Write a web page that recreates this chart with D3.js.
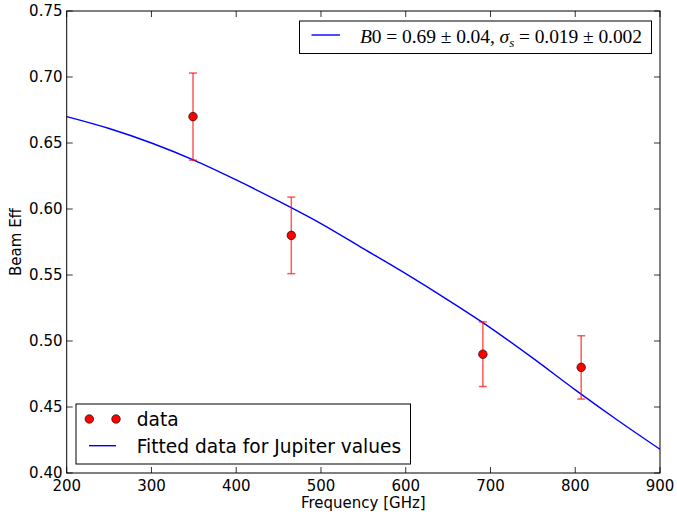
<!DOCTYPE html>
<html><head><meta charset="utf-8">
<script src="https://cdn.jsdelivr.net/npm/d3@7/dist/d3.min.js"></script>
<style>body{margin:0;background:#fff}svg{display:block}text{font-family:"DejaVu Sans",sans-serif}</style>
</head><body>
<script>
const freqs = [349, 465, 691, 807];
const beamEff = [0.670, 0.580, 0.490, 0.480];
const beamErr = [0.033, 0.029, 0.0245, 0.024];
const fitFreq = [200, 250, 300, 350, 400, 450, 500, 550, 600, 650, 700, 750, 800, 850, 900];
const fitEff = [0.670, 0.661, 0.650, 0.637, 0.622, 0.606, 0.589, 0.570, 0.551, 0.531, 0.510, 0.487, 0.463, 0.440, 0.418];
const xTicks = [200, 300, 400, 500, 600, 700, 800, 900];
const yTicks = [0.40, 0.45, 0.50, 0.55, 0.60, 0.65, 0.70, 0.75];

const W = 677, H = 515;
const L = 66.7, R = 660, T = 11, B = 473;
const svg = d3.select("body").append("svg").attr("width", W).attr("height", H);
const x = d3.scaleLinear().domain([200, 900]).range([L, R]);
const y = d3.scaleLinear().domain([0.40, 0.75]).range([B, T]);

// ticks (inside, all four sides)
const tl = 6;
const g = svg.append("g");
xTicks.forEach(t => {
  g.append("line").attr("x1", x(t)).attr("x2", x(t)).attr("y1", B).attr("y2", B - tl).attr("stroke", "#000").attr("stroke-width", 0.8);
  g.append("line").attr("x1", x(t)).attr("x2", x(t)).attr("y1", T).attr("y2", T + tl).attr("stroke", "#000").attr("stroke-width", 0.8);
  g.append("text").attr("x", x(t)).attr("y", 490.5).attr("text-anchor", "middle").attr("font-size", 15).text(t);
});
yTicks.forEach(t => {
  g.append("line").attr("x1", L).attr("x2", L + tl).attr("y1", y(t)).attr("y2", y(t)).attr("stroke", "#000").attr("stroke-width", 0.8);
  g.append("line").attr("x1", R).attr("x2", R - tl).attr("y1", y(t)).attr("y2", y(t)).attr("stroke", "#000").attr("stroke-width", 0.8);
  g.append("text").attr("x", 62.5).attr("y", y(t)).attr("dy", "0.36em").attr("text-anchor", "end").attr("font-size", 15).text(t.toFixed(2));
});

// fitted curve
svg.append("clipPath").attr("id", "c").append("rect").attr("x", L).attr("y", T).attr("width", R - L).attr("height", B - T);
const line = d3.line().x((d, i) => x(fitFreq[i])).y(d => y(d)).curve(d3.curveMonotoneX);
svg.append("path").attr("d", line(fitEff)).attr("fill", "none").attr("stroke", "#0000ff").attr("stroke-width", 1.4).attr("clip-path", "url(#c)");

// error bars
const eb = svg.append("g").attr("stroke", "#ff0000").attr("stroke-opacity", 0.65).attr("stroke-width", 1.5);
freqs.forEach((f, i) => {
  const cx = x(f), y1 = y(beamEff[i] - beamErr[i]), y2 = y(beamEff[i] + beamErr[i]);
  eb.append("line").attr("x1", cx).attr("x2", cx).attr("y1", y1).attr("y2", y2);
  eb.append("line").attr("x1", cx - 4).attr("x2", cx + 4).attr("y1", y1).attr("y2", y1);
  eb.append("line").attr("x1", cx - 4).attr("x2", cx + 4).attr("y1", y2).attr("y2", y2);
});
svg.append("g").selectAll("circle").data(beamEff).join("circle")
  .attr("cx", (d, i) => x(freqs[i])).attr("cy", d => y(d)).attr("r", 4.3)
  .attr("fill", "#ff0000").attr("stroke", "#000").attr("stroke-width", 0.6);

// frame
svg.append("rect").attr("x", L).attr("y", T).attr("width", R - L).attr("height", B - T).attr("fill", "none").attr("stroke", "#000").attr("stroke-width", 1);

// axis labels
svg.append("text").attr("x", (L + R) / 2).attr("y", 508).attr("text-anchor", "middle").attr("font-size", 15).text("Frequency [GHz]");
svg.append("text").attr("transform", `translate(21,${(T + B) / 2}) rotate(-90)`).attr("text-anchor", "middle").attr("font-size", 15).text("Beam Eff");

// upper legend
svg.append("rect").attr("x", 299.5).attr("y", 21).attr("width", 352).attr("height", 32.5).attr("fill", "#fff").attr("stroke", "#000").attr("stroke-width", 1);
svg.append("line").attr("x1", 311.5).attr("x2", 340).attr("y1", 35).attr("y2", 35).attr("stroke", "#0000ff").attr("stroke-width", 1.4);
const mt = svg.append("text").attr("x", 360).attr("y", 42.5).attr("font-size", 19.5)
  .attr("textLength", 282).attr("lengthAdjust", "spacing")
  .style("font-family", "'Liberation Serif', serif");
mt.append("tspan").attr("font-style", "italic").text("B");
mt.append("tspan").text("0 = 0.69 \u00b1 0.04, ");
mt.append("tspan").attr("font-style", "italic").text("\u03c3");
mt.append("tspan").attr("font-style", "italic").attr("font-size", 13).attr("dy", 4).text("s");
mt.append("tspan").attr("dy", -4).text(" = 0.019 \u00b1 0.002");

// lower legend
svg.append("rect").attr("x", 76).attr("y", 404).attr("width", 334.5).attr("height", 60).attr("fill", "#fff").attr("stroke", "#000").attr("stroke-width", 1);
[89.3, 116].forEach(cx => svg.append("circle").attr("cx", cx).attr("cy", 419).attr("r", 4.3).attr("fill", "#ff0000").attr("stroke", "#000").attr("stroke-width", 0.6));
svg.append("text").attr("x", 136.7).attr("y", 425.5).attr("font-size", 18.6).text("data");
svg.append("line").attr("x1", 89).attr("x2", 116).attr("y1", 445.7).attr("y2", 445.7).attr("stroke", "#0000ff").attr("stroke-width", 1.4);
svg.append("text").attr("x", 136.7).attr("y", 452.5).attr("font-size", 18.6).text("Fitted data for Jupiter values");
</script>
</body></html>
